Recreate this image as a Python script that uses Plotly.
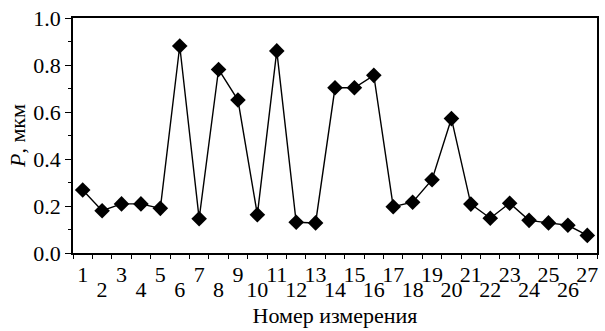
import plotly.graph_objects as go

# Measurement numbers and measured P values (µm)
measurement = list(range(1, 28))
p_values = [0.268, 0.180, 0.209, 0.209, 0.190, 0.881, 0.146, 0.781, 0.651, 0.163,
            0.860, 0.131, 0.128, 0.703, 0.703, 0.756, 0.197, 0.216, 0.312, 0.572,
            0.208, 0.148, 0.212, 0.139, 0.128, 0.118, 0.075]

# Tick labels: odd numbers on the first row, even numbers on the second
odd_ticks = [n for n in measurement if n % 2 == 1]
even_ticks = [n for n in measurement if n % 2 == 0]
y_ticks = [0.0, 0.2, 0.4, 0.6, 0.8, 1.0]
y_ticklabels = ["0.0", "0.2", "0.4", "0.6", "0.8", "1.0"]

FONT = "'Liberation Serif', 'Times New Roman', serif"
TXT = dict(family=FONT, size=22, color="black")
x_range = [0.5, 27.5]

fig = go.Figure()
fig.add_trace(go.Scatter(
    x=measurement, y=p_values, mode="lines+markers",
    line=dict(color="black", width=1.4),
    marker=dict(symbol="diamond", size=12, color="black"),
    showlegend=False,
))
# invisible trace to activate the second label row
fig.add_trace(go.Scatter(x=[], y=[], xaxis="x2", showlegend=False))

fig.update_layout(
    width=605, height=331,
    margin=dict(l=73, r=6, t=13, b=78),
    paper_bgcolor="white", plot_bgcolor="white",
    font=TXT,
    xaxis=dict(
        range=x_range, tickmode="array", tickvals=odd_ticks,
        ticktext=[str(n) for n in odd_ticks], tickfont=TXT,
        ticks="", showgrid=False, zeroline=False,
        showline=True, linecolor="black", linewidth=1.5, mirror=True,
        ticklabelstandoff=1,
        minor=dict(ticks="outside", tick0=0.5, dtick=1, ticklen=4,
                   tickcolor="black", tickwidth=1.3, showgrid=False),
    ),
    xaxis2=dict(
        range=x_range, overlaying="x", side="bottom", matches="x",
        tickmode="array", tickvals=even_ticks,
        ticktext=[str(n) for n in even_ticks], tickfont=TXT,
        ticks="", showgrid=False, zeroline=False, showline=False,
        ticklabelstandoff=21,
        title=dict(text="Номер измерения", standoff=6, font=TXT),
    ),
    yaxis=dict(
        range=[0, 1.0], tickmode="array", tickvals=y_ticks, ticktext=y_ticklabels,
        tickfont=TXT,
        ticks="outside", ticklen=6, tickwidth=1.3, tickcolor="black",
        showgrid=False, zeroline=False,
        showline=True, linecolor="black", linewidth=1.5, mirror=True,
        ticklabelstandoff=0,
        minor=dict(ticks="outside", dtick=0.1, ticklen=3,
                   tickcolor="black", tickwidth=1.3, showgrid=False),
        title=dict(text="<i>P</i>, мкм", standoff=2, font=TXT),
    ),
)

fig.write_html("out.html")
